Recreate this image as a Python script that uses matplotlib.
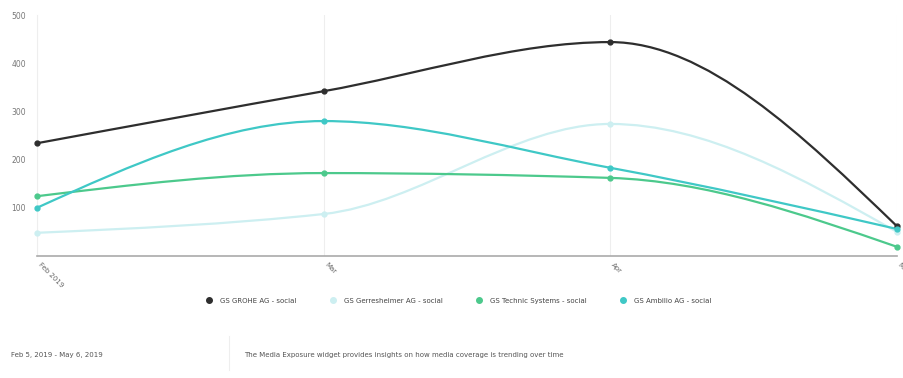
import matplotlib.pyplot as plt
import numpy as np
from matplotlib.path import Path
from matplotlib.patches import PathPatch
from matplotlib.lines import Line2D

# media exposure, social mentions per month
months = ['Feb 2019', 'Mar', 'Apr', 'May']
grohe = [234, 342, 444, 62]
gerresheimer = [48, 87, 274, 50]
technic = [124, 172, 162, 19]
ambilio = [100, 280, 183, 56]

series = [
    ('GS GROHE AG - social', grohe, '#2e2e2e'),
    ('GS Gerresheimer AG - social', gerresheimer, '#cdeff1'),
    ('GS Technic Systems - social', technic, '#4cc98c'),
    ('GS Ambilio AG - social', ambilio, '#3fc8c6'),
]


def monotone_path(x, y):
    # monotone cubic (Fritsch-Carlson) tangents, drawn as bezier segments
    x = np.asarray(x, float)
    y = np.asarray(y, float)
    h = np.diff(x)
    d = np.diff(y) / h
    m = np.zeros_like(y)
    for i in range(1, len(y) - 1):
        if d[i - 1] * d[i] <= 0:
            m[i] = 0
        else:
            m[i] = 3 * (h[i - 1] + h[i]) / ((2 * h[i] + h[i - 1]) / d[i - 1] + (h[i] + 2 * h[i - 1]) / d[i])
    # end tangents like d3 curveMonotoneX
    m[0] = (3 * d[0] - m[1]) / 2
    m[-1] = (3 * d[-1] - m[-2]) / 2
    verts = [(x[0], y[0])]
    codes = [Path.MOVETO]
    for i in range(len(x) - 1):
        dx = h[i] / 3
        verts += [(x[i] + dx, y[i] + m[i] * dx), (x[i + 1] - dx, y[i + 1] - m[i + 1] * dx), (x[i + 1], y[i + 1])]
        codes += [Path.CURVE4] * 3
    return Path(verts, codes)


fig = plt.figure(figsize=(9.04, 3.78), dpi=100)
ax = fig.add_axes([0.041, 0.323, 0.951, 0.637])
xs = np.arange(len(months))

for name, vals, col in series:
    ax.add_patch(PathPatch(monotone_path(xs, vals), fill=False, edgecolor=col, lw=1.6, zorder=3))
    ax.plot(xs, vals, 'o', color=col, ms=3.5, zorder=4, clip_on=False)

ax.set_xlim(0, 3)
ax.set_ylim(0, 500)
ax.set_xticks(xs)
ax.set_xticklabels(months, rotation=-45, ha='left', va='top', fontsize=5, color='#666666')
ax.set_yticks([100, 200, 300, 400, 500])
ax.tick_params(axis='y', labelsize=5.5, labelcolor='#777777', length=0, pad=8)
ax.tick_params(axis='x', length=0, pad=4)
ax.xaxis.grid(True, color='#eeeeee', lw=0.8)
ax.yaxis.grid(False)
for s in ['top', 'right']:
    ax.spines[s].set_visible(False)
ax.spines['left'].set_color('#eeeeee')
ax.spines['bottom'].set_color('#aaaaaa')
ax.spines['bottom'].set_linewidth(1.2)

handles = [Line2D([], [], marker='o', ls='none', color=c, ms=4) for _, _, c in series]
fig.legend(handles, [n for n, _, _ in series], loc='center', bbox_to_anchor=(0.505, 0.205),
           ncol=4, frameon=False, fontsize=5, handletextpad=0.6, columnspacing=4.2,
           labelcolor='#444444')

fig.text(0.012, 0.062, 'Feb 5, 2019 - May 6, 2019', fontsize=5, color='#555555', va='center')
fig.add_artist(Line2D([0.253, 0.253], [0.02, 0.11], transform=fig.transFigure, color='#eeeeee', lw=0.8))
fig.text(0.27, 0.062, 'The Media Exposure widget provides insights on how media coverage is trending over time',
         fontsize=5, color='#555555', va='center')

fig.savefig('out.png', dpi=100)
